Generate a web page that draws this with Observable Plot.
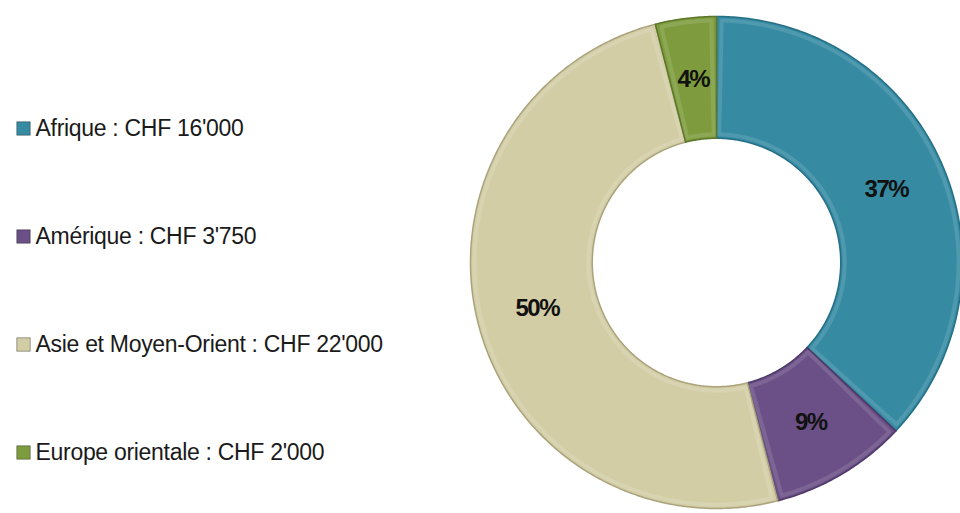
<!DOCTYPE html>
<html><head><meta charset="utf-8">
<script src="https://cdn.jsdelivr.net/npm/d3@7"></script>
<script src="https://cdn.jsdelivr.net/npm/@observablehq/plot@0.6"></script>
<style>
body{margin:0;background:#fff;}
#chart{display:flex;width:960px;height:513px;overflow:hidden;}
#chart svg{flex:none;display:block;}
</style></head><body><div id="chart"></div>
<script>
// ---- data ----
const regions = ["Afrique", "Amérique", "Asie et Moyen-Orient", "Europe orientale"];
const amounts = ["16'000", "3'750", "22'000", "2'000"];
const shares = [37, 9, 50, 4];
const shareLabels = ["37%", "9%", "50%", "4%"];
const colors = ["#368ba3", "#6a5086", "#d3cda5", "#7e9c3e"];
const edgeColors = ["#256f86", "#4d3868", "#aaa37c", "#5c7729"];

// ---- layout ----
const W = 960, H = 513, legendW = 420, donutW = W - legendW;
const cx = 716 - legendW, cy = 262, R = 246, inner = 0.505;
const font = "'Liberation Sans', Arial, sans-serif";

const rows = regions.map((region, i) => ({region, amount: amounts[i], share: shares[i], label: shareLabels[i], i}));
const arcs = d3.pie().sort(null).value(d => d.share)(rows);

function slicePoly(a0, a1, r0, r1) {
  const pts = [];
  const n = Math.max(2, Math.ceil((a1 - a0) / 0.01));
  for (let k = 0; k <= n; k++) { const t = a0 + (a1 - a0) * k / n; pts.push({x: r1 * Math.sin(t), y: r1 * Math.cos(t)}); }
  for (let k = n; k >= 0; k--) { const t = a0 + (a1 - a0) * k / n; pts.push({x: r0 * Math.sin(t), y: r0 * Math.cos(t)}); }
  pts.push(pts[0]);
  return pts;
}

const sliceMarks = [];
arcs.forEach((a, i) => {
  sliceMarks.push(Plot.line(slicePoly(a.startAngle, a.endAngle, inner, 1), {x: "x", y: "y", fill: colors[i], stroke: edgeColors[i], strokeWidth: 1.5, curve: "linear"}));
  const ia = 4 / R; // bevel inset
  sliceMarks.push(Plot.line(slicePoly(a.startAngle + ia / 0.75, a.endAngle - ia / 0.75, inner + ia, 1 - ia),
    {x: "x", y: "y", fill: "none", stroke: "white", strokeOpacity: 0.12, strokeWidth: 4, curve: "linear"}));
});

const mid = d => (d.startAngle + d.endAngle) / 2;
const lr = (1 + inner) / 2;

const donut = Plot.plot({
  width: donutW, height: H, margin: 0,
  style: {fontFamily: font, background: "transparent"},
  x: {domain: [-cx / R, (donutW - cx) / R], range: [0, donutW], axis: null},
  y: {domain: [(cy - H) / R, cy / R], range: [H, 0], axis: null},
  marks: [
    ...sliceMarks,
    Plot.text(arcs, {x: d => lr * Math.sin(mid(d)), y: d => lr * Math.cos(mid(d)), text: d => d.data.label,
      fontSize: 24, fontWeight: "bold", fill: "#111"})
  ]
});

const legend = Plot.plot({
  width: legendW, height: H, margin: 0,
  style: {fontFamily: font, background: "transparent"},
  x: {type: "identity", axis: null},
  y: {type: "point", domain: regions, range: [128, 452], padding: 0, axis: null},
  color: {domain: regions, range: colors},
  marks: [
    Plot.dot(rows, {x: () => 23, y: "region", symbol: "square", r: 7.6, fill: "region", stroke: "rgba(0,0,0,0.35)", strokeWidth: 1}),
    Plot.text(rows, {x: () => 35, y: "region", text: d => `${d.region} : CHF ${d.amount}`, textAnchor: "start", fontSize: 23, fill: "#1a1a1a"})
  ]
});

d3.select(legend).selectAll("text").style("letter-spacing", "-0.3px");
d3.select(donut).selectAll("text").style("letter-spacing", "-1.5px");

document.getElementById("chart").append(legend, donut);
</script></body></html>
